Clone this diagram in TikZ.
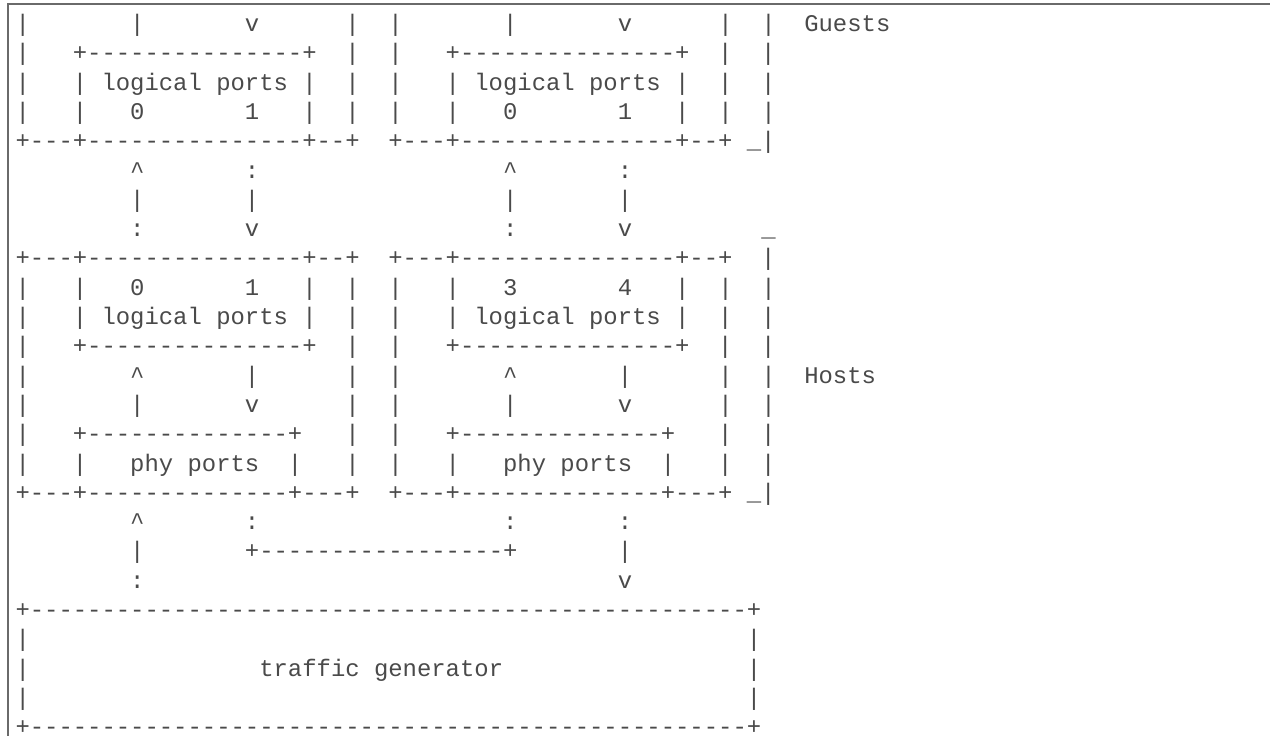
\documentclass[tikz,border=0pt]{standalone}
\usepackage{fontspec}
\setmonofont{Liberation Mono}
\definecolor{txtgray}{HTML}{4A4A4A}
\definecolor{framegray}{HTML}{6A6A6A}
\newlength\cw
\setlength\cw{14.342bp}
\newcommand\SP[1]{\hspace*{#1\cw}}
\newcommand\rowfont{\ttfamily\fontsize{23.9bp}{29.3bp}\selectfont}
\newcommand\CA{\textasciicircum}
\tikzset{
  asciirow/.style={anchor=base west, inner sep=0pt, outer sep=0pt, font=\rowfont, text=txtgray},
  framerule/.style={draw=framegray, line width=1.6bp}
}
\begin{document}
\begin{tikzpicture}[x=1bp,y=1bp]
\useasboundingbox (0,0) rectangle (1270,-736);
\fill[white] (0,0) rectangle (1270,-736);
% frame
\coordinate (fb) at (8,-737);
\coordinate (fc) at (8,-4);
\coordinate (fr) at (1271,-4);
\draw[framerule] (fb) -- (fc) -- (fr);
% rows
\def\X{15.5}
\node[asciirow] (r1)  at (\X,{-(31.5+0*29.3)}) {|\SP7|\SP7v\SP6|\SP2|\SP7|\SP7v\SP6|\SP2|\SP2Guests};
\node[asciirow] (r2)  at (\X,{-(31.5+1*29.3)}) {|\SP3+---------------+\SP2|\SP2|\SP3+---------------+\SP2|\SP2|};
\node[asciirow] (r3)  at (\X,{-(31.5+2*29.3)}) {|\SP3|\SP1logical\SP1ports\SP1|\SP2|\SP2|\SP3|\SP1logical\SP1ports\SP1|\SP2|\SP2|};
\node[asciirow] (r4)  at (\X,{-(31.5+3*29.3)}) {|\SP3|\SP30\SP71\SP3|\SP2|\SP2|\SP3|\SP30\SP71\SP3|\SP2|\SP2|};
\node[asciirow] (r5)  at (\X,{-(31.5+4*29.3)}) {+---+---------------+--+\SP2+---+---------------+--+\SP1\_|};
\node[asciirow] (r6)  at (\X,{-(31.5+5*29.3)}) {\SP8\CA\SP7:\SP{17}\CA\SP7:};
\node[asciirow] (r7)  at (\X,{-(31.5+6*29.3)}) {\SP8|\SP7|\SP{17}|\SP7|};
\node[asciirow] (r8)  at (\X,{-(31.5+7*29.3)}) {\SP8:\SP7v\SP{17}:\SP7v\SP9\_};
\node[asciirow] (r9)  at (\X,{-(31.5+8*29.3)}) {+---+---------------+--+\SP2+---+---------------+--+\SP2|};
\node[asciirow] (r10) at (\X,{-(31.5+9*29.3)}) {|\SP3|\SP30\SP71\SP3|\SP2|\SP2|\SP3|\SP33\SP74\SP3|\SP2|\SP2|};
\node[asciirow] (r11) at (\X,{-(31.5+10*29.3)}) {|\SP3|\SP1logical\SP1ports\SP1|\SP2|\SP2|\SP3|\SP1logical\SP1ports\SP1|\SP2|\SP2|};
\node[asciirow] (r12) at (\X,{-(31.5+11*29.3)}) {|\SP3+---------------+\SP2|\SP2|\SP3+---------------+\SP2|\SP2|};
\node[asciirow] (r13) at (\X,{-(31.5+12*29.3)}) {|\SP7\CA\SP7|\SP6|\SP2|\SP7\CA\SP7|\SP6|\SP2|\SP2Hosts};
\node[asciirow] (r14) at (\X,{-(31.5+13*29.3)}) {|\SP7|\SP7v\SP6|\SP2|\SP7|\SP7v\SP6|\SP2|};
\node[asciirow] (r15) at (\X,{-(31.5+14*29.3)}) {|\SP3+--------------+\SP3|\SP2|\SP3+--------------+\SP3|\SP2|};
\node[asciirow] (r16) at (\X,{-(31.5+15*29.3)}) {|\SP3|\SP3phy\SP1ports\SP2|\SP3|\SP2|\SP3|\SP3phy\SP1ports\SP2|\SP3|\SP2|};
\node[asciirow] (r17) at (\X,{-(31.5+16*29.3)}) {+---+--------------+---+\SP2+---+--------------+---+\SP1\_|};
\node[asciirow] (r18) at (\X,{-(31.5+17*29.3)}) {\SP8\CA\SP7:\SP{17}:\SP7:};
\node[asciirow] (r19) at (\X,{-(31.5+18*29.3)}) {\SP8|\SP7+-----------------+\SP7|};
\node[asciirow] (r20) at (\X,{-(31.5+19*29.3)}) {\SP8:\SP{33}v};
\node[asciirow] (r21) at (\X,{-(31.5+20*29.3)}) {+--------------------------------------------------+};
\node[asciirow] (r22) at (\X,{-(31.5+21*29.3)}) {|\SP{50}|};
\node[asciirow] (r23) at (\X,{-(31.5+22*29.3)}) {|\SP{16}traffic\SP1generator\SP{17}|};
\node[asciirow] (r24) at (\X,{-(31.5+23*29.3)}) {|\SP{50}|};
\node[asciirow] (r25) at (\X,{-(31.5+24*29.3)}) {+--------------------------------------------------+};
\end{tikzpicture}
\end{document}
